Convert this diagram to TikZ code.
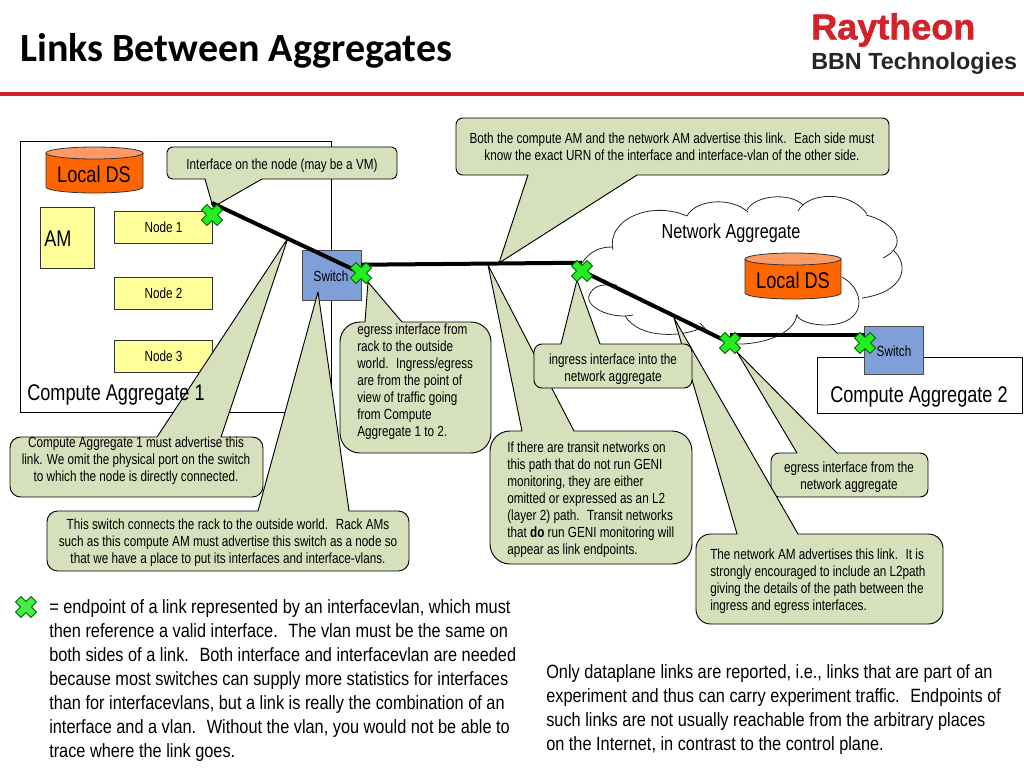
\documentclass[tikz,border=0pt]{standalone}
\usepackage{fontspec}
\setmainfont{Liberation Sans}
\newfontfamily\titlefont{Carlito}
\newfontfamily\narrowfont[FakeStretch=0.8]{Liberation Sans}
\newfontfamily\bodyfont[FakeStretch=0.85]{Liberation Sans}
\newfontfamily\logofont[FakeBold=1.5]{Liberation Sans}
\definecolor{calloutgreen}{HTML}{D7E0BC}
\definecolor{nodeyellow}{HTML}{FFFF99}
\definecolor{dsorange}{HTML}{FF6600}
\definecolor{dstop}{HTML}{FF9966}
\definecolor{switchblue}{HTML}{7F9FD8}
\definecolor{xgreen}{HTML}{22EE22}
\definecolor{xlegendgreen}{HTML}{44EE44}
\definecolor{raytheonred}{HTML}{D2232A}
\tikzset{
  callout/.style={draw=black, fill=calloutgreen, line width=0.7pt, line join=round},
  calltext/.style={inner sep=0pt, font=\narrowfont\fontsize{11}{12.75}\selectfont, align=center},
  bigtext/.style={inner sep=0pt, font=\bodyfont\fontsize{14.4}{18}\selectfont, align=left, anchor=north west},
  biglabel/.style={inner sep=0pt, font=\narrowfont\fontsize{17}{19}\selectfont},
  nodebox/.style={draw=black!80, fill=nodeyellow, line width=0.7pt, minimum width=73.5pt, minimum height=24pt, font=\narrowfont\fontsize{11}{12}\selectfont},
  switchbox/.style={draw=black!70, fill=switchblue, line width=0.7pt},
  aggbox/.style={draw=black, fill=white, line width=0.7pt},
  cloudline/.style={draw=black!85, line width=0.6pt},
  link/.style={line width=3pt, black},
  xpoint/.style={inner sep=0pt, minimum size=12pt},
}
% cross marker drawn on a named point
\newcommand{\xmark}[2][xgreen]{%
  \draw[fill=#1, draw=black!60!green, line width=0.6pt, line join=round, shift={(#2.center)}]
    (-5,-10.5) -- (0,-5.5) -- (5,-10.5) -- (10.5,-5) -- (5.5,0) -- (10.5,5) -- (5,10.5)
    -- (0,5.5) -- (-5,10.5) -- (-10.5,5) -- (-5.5,0) -- (-10.5,-5) -- cycle;
}
% cylinder: x left, x right, y top, y bottom
\newcommand{\dscyl}[4]{%
  \draw[fill=dsorange, draw=black!80, line width=0.6pt] (#1,#3) -- (#1,#4) arc[start angle=180, end angle=0, x radius={(#2-#1)/2}, y radius=6]
    -- (#2,#3) -- cycle;
  \draw[fill=dstop, draw=black!80, line width=0.6pt] ({(#1+#2)/2},#3) ellipse[x radius={(#2-#1)/2}, y radius=6];
}
\begin{document}
\begin{tikzpicture}[x=0.75pt, y=-0.75pt]
  \useasboundingbox (0,0) rectangle (1024,768);

  % 1. TITLE AND LOGO
  \node[anchor=west, inner sep=0pt, font=\titlefont\bfseries\fontsize{30}{34}\selectfont] (title) at (20,51) {Links Between Aggregates};
  \node[anchor=west, inner sep=0pt, text=raytheonred, font=\logofont\bfseries\fontsize{27}{30}\selectfont] (raytheon) at (811,30) {Raytheon};
  \node[anchor=west, inner sep=0pt, text=black!85, font=\bfseries\fontsize{17.5}{20}\selectfont] (bbn) at (811,64) {BBN Technologies};
  \fill[raytheonred] (0,92) rectangle (1024,96);

  % 2. COMPUTE AGGREGATE 1
  \draw[aggbox] (20,141) rectangle (331,412);
  \dscyl{46}{143}{153}{187}
  \node[biglabel] (ds1) at (94,174) {Local DS};
  \draw[nodebox] (40,207) rectangle (94,268);
  \node[biglabel, anchor=west] (am) at (44,239) {AM};
  \node[nodebox] (node1) at (163.5,227) {Node 1};
  \node[nodebox] (node2) at (163.5,293) {Node 2};
  \node[nodebox] (node3) at (163.5,356.5) {Node 3};

  % 3. NETWORK AGGREGATE (cloud, one stroke per bump)
  \draw[cloudline] (582,263) .. controls (590,251) and (600,247) .. (612,247);
  \draw[cloudline] (613,250) .. controls (606,220) and (650,200) .. (687,216);
  \draw[cloudline] (687,216) .. controls (695,200) and (730,196) .. (748,212);
  \draw[cloudline] (747,210) .. controls (755,195) and (790,192) .. (803,205);
  \draw[cloudline] (798,211) .. controls (808,192) and (850,190) .. (867,214);
  \draw[cloudline] (866,215) .. controls (895,222) and (910,245) .. (883,258);
  \draw[cloudline] (893,250) .. controls (910,265) and (905,292) .. (862,298);
  \draw[cloudline] (842,277) .. controls (866,290) and (868,325) .. (825,325) .. controls (810,325) and (798,320) .. (797,315);
  \draw[cloudline] (797,314) .. controls (795,335) and (760,345) .. (735,344);
  \draw[cloudline] (700,323) -- (709,333);
  \draw[cloudline] (703,327) .. controls (685,337) and (640,340) .. (625,316);
  \draw[cloudline] (633,315) .. controls (610,320) and (580,305) .. (591,292) .. controls (595,285) and (605,284) .. (617,285);
  \dscyl{745}{841}{259}{293}
  \node[biglabel] (ds2) at (793,280) {Local DS};
  \node[inner sep=0pt, font=\narrowfont\fontsize{15.2}{17}\selectfont] (netagg) at (731,233) {Network Aggregate};

  % 4. COMPUTE AGGREGATE 2 AND SWITCHES
  \draw[aggbox] (817,357) rectangle (1022,413);
  \node[biglabel] (agg2) at (919,397) {Compute Aggregate 2};
  \node[switchbox, minimum width=44.25pt, minimum height=37.5pt] (sw1) at (331.5,275) {};
  \node[switchbox, minimum width=44.25pt, minimum height=36pt] (sw2) at (894,350) {};

  % 5. CALLOUTS
  % Interface callout
  \draw[callout, rounded corners=4pt] (167,165) -- (167,147) -- (397,147) -- (397,179) [sharp corners] -- (262,179) -- (213,207) -- (205,179) [rounded corners=4pt] -- (167,179) -- cycle;
  % Both AMs callout
  \draw[callout, rounded corners=5pt] (456,150) -- (456,118) -- (889,118) -- (889,175) [sharp corners] -- (637,175) -- (499,263) -- (528,175) [rounded corners=5pt] -- (456,175) -- cycle;
  % Compute Aggregate 1 callout
  \draw[callout, rounded corners=8pt] (10,470) -- (10,437) [sharp corners] -- (157,437) -- (288,238) -- (221,437) [rounded corners=8pt] -- (263,437) -- (263,497) -- (10,497) -- cycle;
  % This switch callout
  \draw[callout, rounded corners=8pt] (47,540) -- (47,511) [sharp corners] -- (258,511) -- (318,292) -- (349,511) [rounded corners=8pt] -- (409,511) -- (409,571) -- (47,571) -- cycle;
  % egress from rack callout
  \draw[callout, rounded corners=15pt] (340,390) -- (340,322) [sharp corners] -- (365,322) -- (368,282) -- (402,322) [rounded corners=15pt] -- (491,322) -- (491,453) -- (340,453) -- cycle;
  % transit networks callout
  \draw[callout, rounded corners=15pt] (490,500) -- (490,431) [sharp corners] -- (522,431) -- (488,265) -- (574,431) [rounded corners=15pt] -- (692,431) -- (692,564) -- (490,564) -- cycle;
  % egress from network callout
  \draw[callout, rounded corners=6pt] (771,475) -- (771,453) [sharp corners] -- (797,453) -- (737,352) -- (837,453) [rounded corners=6pt] -- (928,453) -- (928,497) -- (771,497) -- cycle;
  % network AM callout
  \draw[callout, rounded corners=11pt] (696,580) -- (696,534) [sharp corners] -- (737,534) -- (674,318) -- (798,534) [rounded corners=11pt] -- (943,534) -- (943,624) -- (696,624) -- cycle;
  % ingress callout
  \draw[callout, rounded corners=6pt] (534,366) -- (534,344) [sharp corners] -- (561,344) -- (577,280) -- (600,344) [rounded corners=6pt] -- (692,344) -- (692,388) -- (534,388) -- cycle;

  % 6. CALLOUT TEXTS
  \node[calltext] (tinterface) at (282,166) {Interface on the node (may be a VM)};
  \node[calltext] (tboth) at (672,147) {Both the compute AM and the network AM advertise this link.~ Each side must\\know the exact URN of the interface and interface-vlan of the other side.};
  \node[calltext] (tcompute) at (136,460.5) {Compute Aggregate 1 must advertise this\\link. We omit the physical port on the switch\\to which the node is directly connected.};
  \node[calltext] (tswitch) at (228,543) {This switch connects the rack to the outside world.~ Rack AMs\\such as this compute AM must advertise this switch as a node so\\that we have a place to put its interfaces and interface-vlans.};
  \node[calltext, align=left, anchor=north west] (tegress) at (357,324) {egress interface from\\rack to the outside\\world.~ Ingress/egress\\are from the point of\\view of traffic going\\from Compute\\Aggregate 1 to 2.};
  \node[calltext, align=left, anchor=north west] (ttransit) at (507,442) {If there are transit networks on\\this path that do not run GENI\\monitoring, they are either\\omitted or expressed as an L2\\(layer 2) path.~ Transit networks\\that \textbf{do} run GENI monitoring will\\appear as link endpoints.};
  \node[calltext] (tingress) at (613,369) {ingress interface into the\\network aggregate};
  \node[calltext] (tegnet) at (849,477.5) {egress interface from the\\network aggregate};
  \node[calltext, align=left, anchor=north west] (tnetam) at (710,549) {The network AM advertises this link.~ It is\\strongly encouraged to include an L2path\\giving the details of the path between the\\ingress and egress interfaces.};
  \node[biglabel] (agg1) at (116,395) {Compute Aggregate 1};
  \node[calltext] (sw1lab) at (331,276) {Switch};
  \node[calltext] (sw2lab) at (894,351) {Switch};

  % 7. ENDPOINTS AND LINKS
  \node[xpoint] (xa) at (212,215) {};
  \node[xpoint] (xb) at (361,273) {};
  \node[xpoint] (xc) at (582,271) {};
  \node[xpoint] (xd) at (730,343) {};
  \node[xpoint] (xe) at (865,343) {};
  \coordinate (xatop) at (212,203);
  \draw[link] (xatop) -- (xb.center);
  \draw[link] (xb.north) -- (xc.north);
  \draw[link] (xc.center) -- (xd.center);
  \draw[link] (xd.north) -- (xe.north);
  \foreach \pt in {xa,xb,xc,xd,xe} {
    \xmark{\pt}
  }

  % 8. LEGEND AND NOTES
  \node[xpoint] (xlegend) at (26,607) {};
  \xmark[xlegendgreen]{xlegend}
  \node[bigtext] (legend) at (49,599) {= endpoint of a link represented by an interfacevlan, which must\\then reference a valid interface.~ The vlan must be the same on\\both sides of a link.~ Both interface and interfacevlan are needed\\because most switches can supply more statistics for interfaces\\than for interfacevlans, but a link is really the combination of an\\interface and a vlan.~ Without the vlan, you would not be able to\\trace where the link goes.};
  \node[bigtext] (note) at (546,664) {Only dataplane links are reported, i.e., links that are part of an\\experiment and thus can carry experiment traffic.~ Endpoints of\\such links are not usually reachable from the arbitrary places\\on the Internet, in contrast to the control plane.};
\end{tikzpicture}
\end{document}
